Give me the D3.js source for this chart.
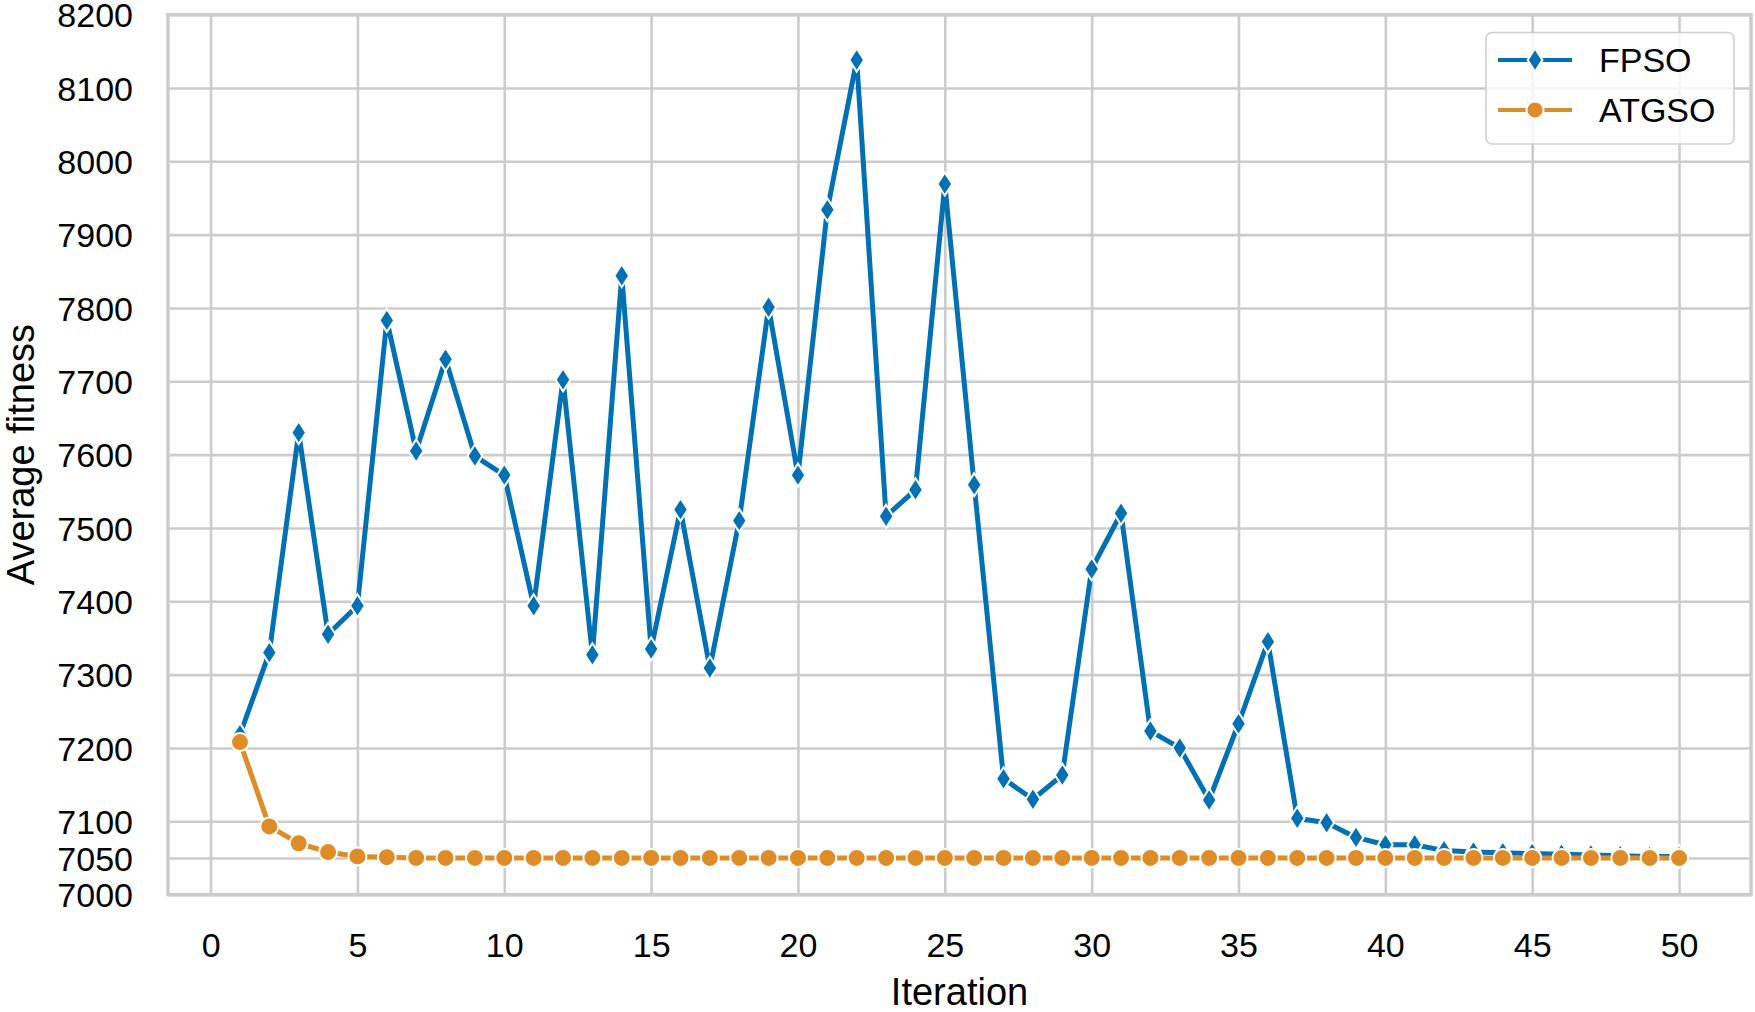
<!DOCTYPE html>
<html>
<head>
<meta charset="utf-8">
<script src="https://cdn.jsdelivr.net/npm/d3@7"></script>
<style>
  html, body { margin: 0; padding: 0; background: #fff; }
  svg { display: block; }
</style>
</head>
<body>
<div id="root"></div>
<script>
// Iteration numbers shared by both series
const iterations = [1, 2, 3, 4, 5, 6, 7, 8, 9, 10, 11, 12, 13, 14, 15, 16, 17, 18, 19, 20,
  21, 22, 23, 24, 25, 26, 27, 28, 29, 30, 31, 32, 33, 34, 35, 36, 37, 38, 39, 40,
  41, 42, 43, 44, 45, 46, 47, 48, 49, 50];

// Average fitness
const fpso = [7218, 7330, 7630, 7355, 7394, 7783, 7605, 7730, 7598, 7572,
  7394, 7702, 7327, 7844, 7335, 7525, 7309, 7510, 7801, 7572,
  7934, 8138, 7516, 7552, 7969, 7559, 7158, 7130, 7163, 7444,
  7520, 7223, 7200, 7129, 7233, 7345, 7104, 7098, 7078, 7068,
  7068, 7060, 7058, 7057, 7056, 7055, 7054, 7053, 7052, 7052];
const atgso = [7208, 7093, 7070, 7058, 7052, 7051, 7050, 7050, 7050, 7050,
  7050, 7050, 7050, 7050, 7050, 7050, 7050, 7050, 7050, 7050,
  7050, 7050, 7050, 7050, 7050, 7050, 7050, 7050, 7050, 7050,
  7050, 7050, 7050, 7050, 7050, 7050, 7050, 7050, 7050, 7050,
  7050, 7050, 7050, 7050, 7050, 7050, 7050, 7050, 7050, 7050];

const seriesNames = ["FPSO", "ATGSO"];
const xTicks = [0, 5, 10, 15, 20, 25, 30, 35, 40, 45, 50];
const yTicks = [7000, 7050, 7100, 7200, 7300, 7400, 7500, 7600, 7700, 7800, 7900, 8000, 8100, 8200];

const width = 1755;
const height = 1012;
const plot = { left: 168, right: 1751, top: 14.6, bottom: 894.6 };
const blue = "#0171b3";
const orange = "#df8c26";
const grid = "#cccccc";
const font = "'Liberation Sans', Arial, sans-serif";

const x = d3.scaleLinear().domain([-1.45, 52.45]).range([plot.left, plot.right]);
const y = d3.scaleLinear().domain([7000, 8200]).range([plot.bottom, plot.top]);

const svg = d3.select("#root")
  .append("svg")
  .attr("width", width)
  .attr("height", height)
  .style("font-family", font);

// grid lines
svg.append("g")
  .attr("transform", `translate(0,${plot.bottom})`)
  .call(d3.axisBottom(x).tickValues(xTicks).tickSize(-(plot.bottom - plot.top)).tickFormat(""))
  .call(g => g.select(".domain").remove())
  .call(g => g.selectAll("line").attr("stroke", grid).attr("stroke-width", 2.6));

svg.append("g")
  .attr("transform", `translate(${plot.left},0)`)
  .call(d3.axisLeft(y).tickValues(yTicks).tickSize(-(plot.right - plot.left)).tickFormat(""))
  .call(g => g.select(".domain").remove())
  .call(g => g.selectAll("line").attr("stroke", grid).attr("stroke-width", 2.6));

// tick labels
svg.append("g")
  .attr("transform", `translate(0,${plot.bottom})`)
  .call(d3.axisBottom(x).tickValues(xTicks).tickSize(0).tickPadding(0).tickFormat(d3.format("d")))
  .call(g => g.select(".domain").remove())
  .call(g => g.selectAll("text")
    .attr("y", 62).attr("dy", null)
    .attr("font-size", 34).attr("font-family", font).attr("fill", "#000"));

svg.append("g")
  .attr("transform", `translate(${plot.left},0)`)
  .call(d3.axisLeft(y).tickValues(yTicks).tickSize(0).tickPadding(0).tickFormat(d3.format("d")))
  .call(g => g.select(".domain").remove())
  .call(g => g.selectAll("text")
    .attr("x", -35).attr("dy", "0.36em")
    .attr("font-size", 34).attr("font-family", font).attr("fill", "#000"));

// frame
svg.append("rect")
  .attr("x", plot.left)
  .attr("y", plot.top)
  .attr("width", plot.right - plot.left)
  .attr("height", plot.bottom - plot.top)
  .attr("fill", "none")
  .attr("stroke", grid)
  .attr("stroke-width", 3.5);

// axis titles
svg.append("text")
  .attr("x", (plot.left + plot.right) / 2)
  .attr("y", 1005)
  .attr("text-anchor", "middle")
  .attr("font-size", 38)
  .text("Iteration");

svg.append("text")
  .attr("transform", `translate(34,${(plot.top + plot.bottom) / 2}) rotate(-90)`)
  .attr("text-anchor", "middle")
  .attr("font-size", 38)
  .text("Average fitness");

const diamond = "M0,-11.5L7.4,0L0,11.5L-7.4,0Z";

function drawSeries(values, color, marker) {
  const pts = iterations.map((d, i) => [d, values[i]]);
  const line = d3.line().x(d => x(d[0])).y(d => y(d[1]));
  const g = svg.append("g");
  g.append("path")
    .attr("d", line(pts))
    .attr("fill", "none")
    .attr("stroke", color)
    .attr("stroke-width", 5)
    .attr("stroke-linejoin", "round");
  if (marker === "diamond") {
    g.selectAll("path.m").data(pts).join("path")
      .attr("class", "m")
      .attr("d", diamond)
      .attr("transform", d => `translate(${x(d[0])},${y(d[1])})`)
      .attr("fill", color)
      .attr("stroke", "#fff")
      .attr("stroke-width", 2);
  } else {
    g.selectAll("circle").data(pts).join("circle")
      .attr("cx", d => x(d[0]))
      .attr("cy", d => y(d[1]))
      .attr("r", 9)
      .attr("fill", color)
      .attr("stroke", "#fff")
      .attr("stroke-width", 2);
  }
}

drawSeries(fpso, blue, "diamond");
drawSeries(atgso, orange, "circle");

// legend
const legend = svg.append("g");
legend.append("rect")
  .attr("x", 1486).attr("y", 32.5)
  .attr("width", 248).attr("height", 111.5)
  .attr("rx", 6)
  .attr("fill", "rgba(255,255,255,0.8)")
  .attr("stroke", "#d0d0d0")
  .attr("stroke-width", 1.6);

const legendRows = [
  { name: seriesNames[0], color: blue, marker: "diamond", cy: 60 },
  { name: seriesNames[1], color: orange, marker: "circle", cy: 110 }
];
legendRows.forEach(r => {
  legend.append("line")
    .attr("x1", 1498).attr("x2", 1572)
    .attr("y1", r.cy).attr("y2", r.cy)
    .attr("stroke", r.color).attr("stroke-width", 4);
  if (r.marker === "diamond") {
    legend.append("path")
      .attr("d", diamond)
      .attr("transform", `translate(1535,${r.cy})`)
      .attr("fill", r.color).attr("stroke", "#fff").attr("stroke-width", 2);
  } else {
    legend.append("circle")
      .attr("cx", 1535).attr("cy", r.cy).attr("r", 8.6)
      .attr("fill", r.color).attr("stroke", "#fff").attr("stroke-width", 2);
  }
  legend.append("text")
    .attr("x", 1599).attr("y", r.cy + 12)
    .attr("font-size", 34)
    .text(r.name);
});
</script>
</body>
</html>
